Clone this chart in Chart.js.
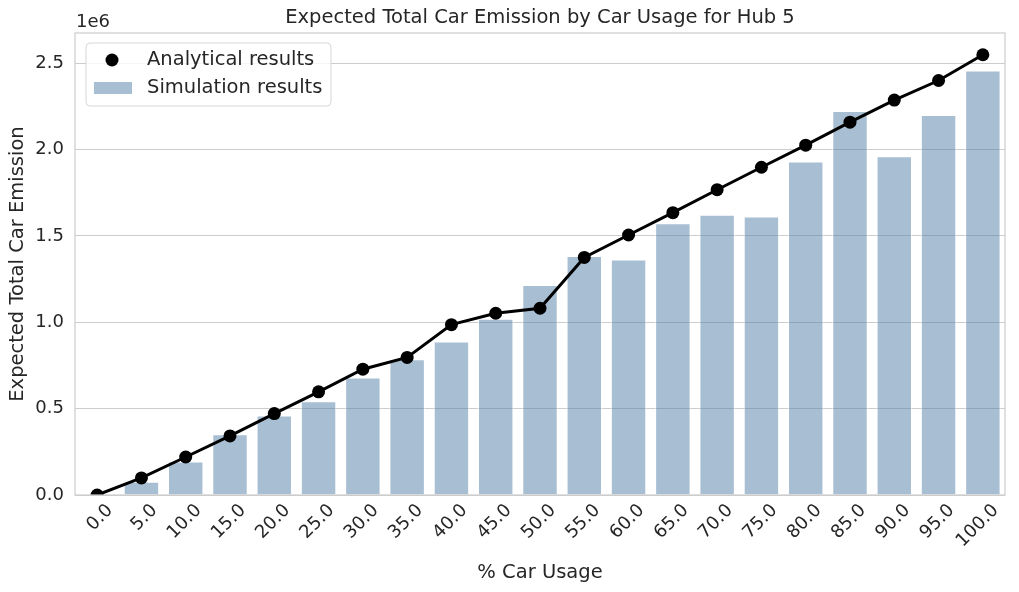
<!DOCTYPE html>
<html>
<head>
<meta charset="utf-8">
<script src="https://cdn.jsdelivr.net/npm/chart.js@4.4.1/dist/chart.umd.min.js"></script>
<style>
  html, body { margin: 0; padding: 0; background: #fff; }
  #wrap { width: 1019px; height: 592px; position: relative; }
</style>
</head>
<body>
<div id="wrap"><canvas id="myChart" width="1019" height="592"></canvas></div>
<script>
// Du lieu doc tu hinh
const carUsage = ['0.0', '5.0', '10.0', '15.0', '20.0', '25.0', '30.0', '35.0', '40.0', '45.0', '50.0',
    '55.0', '60.0', '65.0', '70.0', '75.0', '80.0', '85.0', '90.0', '95.0', '100.0'];
const simulationResults = [0, 77000, 194000, 352000, 460000, 543000, 680000, 786000, 888000, 1020000, 1216000,
    1384000, 1363000, 1573000, 1622000, 1612000, 1930000, 2223000, 1960000, 2199000, 2457000];
const analyticalResults = [0, 99000, 220000, 342000, 471000, 597000, 728000, 796000, 986000, 1052000, 1081000,
    1375000, 1505000, 1634000, 1767000, 1897000, 2025000, 2158000, 2286000, 2399000, 2548000];
const yTicks = [0, 500000, 1000000, 1500000, 2000000, 2500000];

const textColor = '#262626';
const gridColor = '#cccccc';
const fontFamily = '"DejaVu Sans", sans-serif';

// Plugin ve khung, tieu de, "1e6" va chu giai
const decorPlugin = {
    id: 'decor',
    afterDraw(chart) {
        const { ctx, chartArea: a } = chart;
        ctx.save();
        // khung
        ctx.strokeStyle = gridColor;
        ctx.lineWidth = 1.2;
        ctx.strokeRect(a.left, a.top, a.right - a.left, a.bottom - a.top);

        // tieu de
        ctx.fillStyle = textColor;
        ctx.font = '19.5px ' + fontFamily;
        ctx.textAlign = 'center';
        ctx.textBaseline = 'middle';
        ctx.fillText('Expected Total Car Emission by Car Usage for Hub 5', (a.left + a.right) / 2, 18);

        // offset text
        ctx.font = '18px ' + fontFamily;
        ctx.textAlign = 'left';
        ctx.fillText('1e6', a.left + 1, 22);

        // chu giai
        const lx = a.left + 11, ly = a.top + 10, lw = 245, lh = 63;
        ctx.beginPath();
        ctx.roundRect(lx, ly, lw, lh, 4);
        ctx.fillStyle = 'rgba(255,255,255,0.8)';
        ctx.fill();
        ctx.strokeStyle = '#d6d6d6';
        ctx.lineWidth = 1;
        ctx.stroke();

        ctx.beginPath();
        ctx.arc(lx + 26, ly + 17, 6.5, 0, Math.PI * 2);
        ctx.fillStyle = '#000';
        ctx.fill();

        ctx.fillStyle = 'rgba(82,128,168,0.5)';
        ctx.fillRect(lx + 8, ly + 39, 38, 12);

        ctx.fillStyle = textColor;
        ctx.font = '19.5px ' + fontFamily;
        ctx.textBaseline = 'middle';
        ctx.fillText('Analytical results', lx + 61, ly + 17);
        ctx.fillText('Simulation results', lx + 61, ly + 45);
        ctx.restore();
    }
};

const ctx = document.getElementById('myChart').getContext('2d');
new Chart(ctx, {
    data: {
        labels: carUsage,
        datasets: [
            {
                type: 'line',
                label: 'Analytical results',
                data: analyticalResults,
                borderColor: '#000',
                backgroundColor: '#000',
                borderWidth: 3,
                pointRadius: 6.5,
                pointBorderWidth: 0,
                pointBackgroundColor: '#000',
                tension: 0,
                order: 0
            },
            {
                type: 'bar',
                label: 'Simulation results',
                data: simulationResults,
                backgroundColor: 'rgba(82,128,168,0.5)',
                borderColor: 'rgba(255,255,255,0.6)',
                borderWidth: 1,
                barPercentage: 0.8,
                categoryPercentage: 1.0,
                order: 1
            }
        ]
    },
    options: {
        responsive: false,
        animation: false,
        devicePixelRatio: 1,
        layout: { padding: { top: 33, right: 14, left: 0, bottom: 0 } },
        plugins: {
            legend: { display: false },
            title: { display: false },
            tooltip: { enabled: false }
        },
        scales: {
            x: {
                offset: true,
                grid: { display: false, drawTicks: false },
                border: { display: false },
                ticks: {
                    color: textColor,
                    font: { family: fontFamily, size: 18 },
                    maxRotation: 45,
                    minRotation: 45,
                    labelOffset: 13,
                    padding: 5
                },
                title: {
                    display: true,
                    text: '% Car Usage',
                    color: textColor,
                    font: { family: fontFamily, size: 19.5 },
                    padding: { top: 0, bottom: 7 }
                },
                afterFit(scale) { scale.height = 97; }
            },
            y: {
                min: 0,
                max: 2674000,
                grid: { color: gridColor, lineWidth: 1, drawTicks: false },
                border: { display: false },
                afterBuildTicks(scale) {
                    scale.ticks = yTicks.map(v => ({ value: v }));
                },
                ticks: {
                    color: textColor,
                    font: { family: fontFamily, size: 18 },
                    padding: 11,
                    callback: v => (v / 1e6).toFixed(1)
                },
                title: {
                    display: true,
                    text: 'Expected Total Car Emission',
                    color: textColor,
                    font: { family: fontFamily, size: 19.5 },
                    padding: { top: 6, bottom: 0 }
                },
                afterFit(scale) { scale.width = 75; }
            }
        }
    },
    plugins: [decorPlugin]
});
</script>
</body>
</html>
